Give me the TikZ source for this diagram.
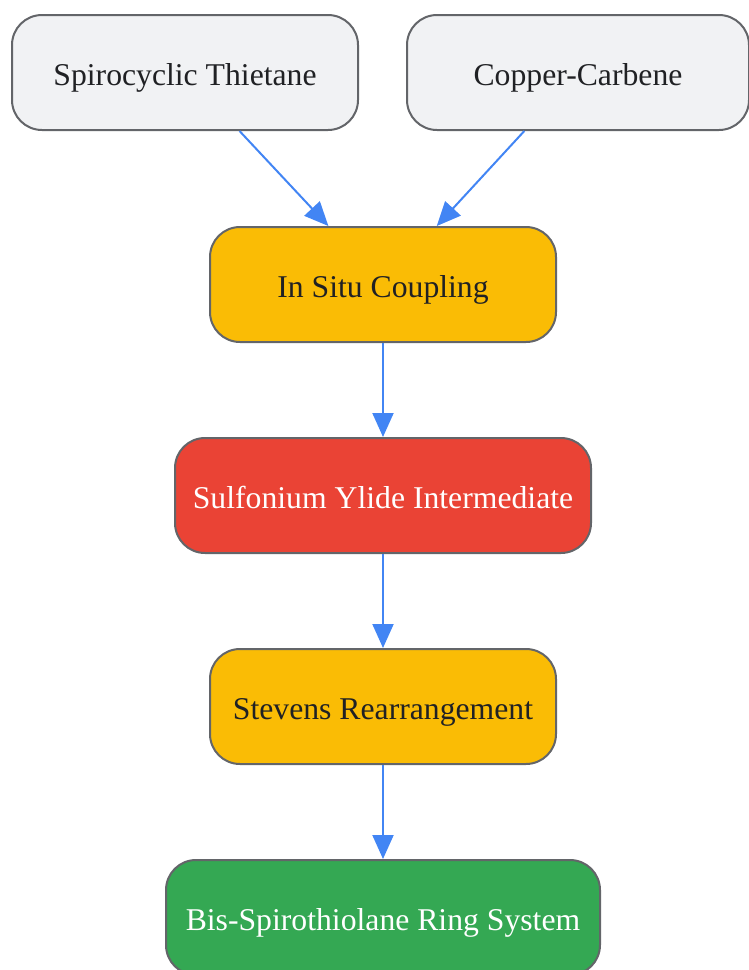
\documentclass[tikz,border=0pt]{standalone}
\usepackage{fontspec}
\setmainfont{Liberation Serif}
\usetikzlibrary{arrows.meta}
\definecolor{grayfill}{HTML}{F1F2F4}
\definecolor{bordergray}{HTML}{636569}
\definecolor{yel}{HTML}{FABC05}
\definecolor{redc}{HTML}{EA4335}
\definecolor{greenc}{HTML}{34A853}
\definecolor{bluec}{HTML}{4285F4}
\definecolor{txt}{HTML}{202124}
\begin{document}
\begin{tikzpicture}[x=1pt,y=1pt,
  box/.style={draw=bordergray, line width=2pt, rounded corners=30pt, minimum height=115pt, inner sep=0pt, text height=30pt, text depth=5pt, font=\fontsize{31.7}{38}\selectfont, text=txt},
  graybox/.style={box, fill=grayfill},
  yelbox/.style={box, fill=yel},
  redbox/.style={box, fill=redc, text=white},
  greenbox/.style={box, fill=greenc, text=white},
  conn/.style={draw=bluec, line width=2pt, -{Triangle[length=24pt,width=21pt]}}
]
\useasboundingbox (0,0) rectangle (748,-970);
\node[graybox, minimum width=346pt] (st) at (185,-72.5) {Spirocyclic Thietane};
\node[graybox, minimum width=342pt] (cc) at (578,-72.5) {Copper-Carbene};
\node[yelbox, minimum width=346pt] (isc) at (383,-284.5) {In Situ Coupling};
\node[redbox, minimum width=416pt] (sy) at (383,-495.5) {Sulfonium Ylide Intermediate};
\node[yelbox, minimum width=346pt] (sr) at (383,-706.5) {Stevens Rearrangement};
\node[greenbox, minimum width=434pt] (bs) at (383,-917.5) {Bis-Spirothiolane Ring System};
\draw[conn] (st) -- (isc);
\draw[conn] (cc) -- (isc);
\draw[conn] (isc) -- (sy);
\draw[conn] (sy) -- (sr);
\draw[conn] (sr) -- (bs);
\end{tikzpicture}
\end{document}
